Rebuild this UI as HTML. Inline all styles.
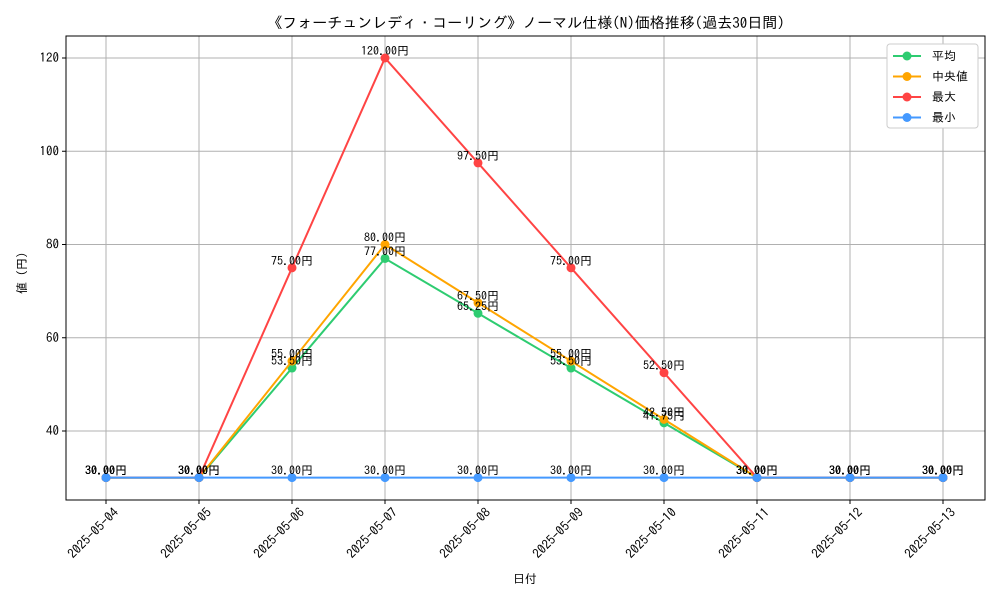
<!DOCTYPE html>
<html><head><meta charset="utf-8"><style>
body{margin:0;background:#fff;}
svg text{font-family:"IPAGothic","Liberation Sans","Noto Sans CJK JP",sans-serif;fill:#000;}
</style></head><body>
<svg id="c" width="1000" height="600" xmlns="http://www.w3.org/2000/svg"></svg>
<script>
const dates=["2025-05-04","2025-05-05","2025-05-06","2025-05-07","2025-05-08","2025-05-09","2025-05-10","2025-05-11","2025-05-12","2025-05-13"];
const meanVals=[30,30,53.5,77,65.25,53.5,41.75,30,30,30];
const medianVals=[30,30,55,80,67.5,55,42.5,30,30,30];
const maxVals=[30,30,75,120,97.5,75,52.5,30,30,30];
const minVals=[30,30,30,30,30,30,30,30,30,30];
const yTicks=[40,60,80,100,120];
const seriesNames=["平均","中央値","最大","最小"];
const NS="http://www.w3.org/2000/svg";
const svg=document.getElementById('c');
const L=66,R=985,T=36,B=500;
const x=i=>106+i*(943-106)/(dates.length-1);
const y=v=>431-(v-40)*(431-58)/80;
function mk(tag,attrs,txt){const e=document.createElementNS(NS,tag);for(const k in attrs)e.setAttribute(k,attrs[k]);if(txt!==undefined)e.textContent=txt;svg.appendChild(e);return e;}
dates.forEach((d,i)=>{
 const g=mk('line',{x1:x(i),x2:x(i),y1:T,y2:B,stroke:'#b0b0b0','stroke-width':1});
 
 
 const t=mk('line',{x1:x(i),x2:x(i),y1:B,y2:B+4,stroke:'#000'});
 
 
 const ax=x(i)+7, ay=B+7;
 const lb=mk('text',{x:ax,y:ay,'font-size':13,'text-anchor':'end',transform:`rotate(-45 ${ax} ${ay})`,'dominant-baseline':'hanging'},d);
 
 
});
yTicks.forEach(v=>{
 const g=mk('line',{x1:L,x2:R,y1:y(v),y2:y(v),stroke:'#b0b0b0','stroke-width':1});
 
 
 const t=mk('line',{x1:L-4,x2:L,y1:y(v),y2:y(v),stroke:'#000'});
 
 
 const lb=mk('text',{x:L-7,y:y(v)+4,'font-size':13,'text-anchor':'end'},v);
 
 
});
const frame=mk('rect',{x:L,y:T,width:R-L,height:B-T,fill:'none',stroke:'#000','stroke-width':1});


const series=[[meanVals,'#2ecc71','mean'],[medianVals,'#ffa500','median'],[maxVals,'#ff4444','max'],[minVals,'#4499ff','min']];
series.forEach(([vals,col,nm])=>{
 const p=mk('polyline',{points:vals.map((v,i)=>x(i)+','+y(v)).join(' '),fill:'none',stroke:col,'stroke-width':2});
 
 
 vals.forEach((v,i)=>{
  const c=mk('circle',{cx:x(i),cy:y(v),r:4.5,fill:col});
  
  
 });
});
series.forEach(([vals,col,nm])=>{
 vals.forEach((v,i)=>{
  const t=mk('text',{x:x(i),y:y(v)-3,'font-size':12,'text-anchor':'middle'},v.toFixed(2)+'円');
  
  
 });
});
const title=mk('text',{x:526,y:28,'font-size':15,'text-anchor':'middle'},'《フォーチュンレディ・コーリング》ノーマル仕様(N)価格推移(過去30日間)');


const xt=mk('text',{x:525,y:583,'font-size':12,'text-anchor':'middle'},'日付');


const yt=mk('text',{x:26,y:270,'font-size':12,'text-anchor':'middle',transform:'rotate(-90 26 270)'},'値（円）');


const lg=mk('rect',{x:887,y:44,width:91,height:84,rx:3,fill:'#fff',stroke:'#ccc'});


series.forEach(([vals,col,nm],k)=>{
 const ly=56+k*20.5;
 const ln=mk('line',{x1:893,x2:921,y1:ly,y2:ly,stroke:col,'stroke-width':2});
 
 
 const c=mk('circle',{cx:907,cy:ly,r:4.5,fill:col});
 
 
 const t=mk('text',{x:932,y:ly+4,'font-size':12},seriesNames[k]);
 
 
});
</script>
</body></html>
